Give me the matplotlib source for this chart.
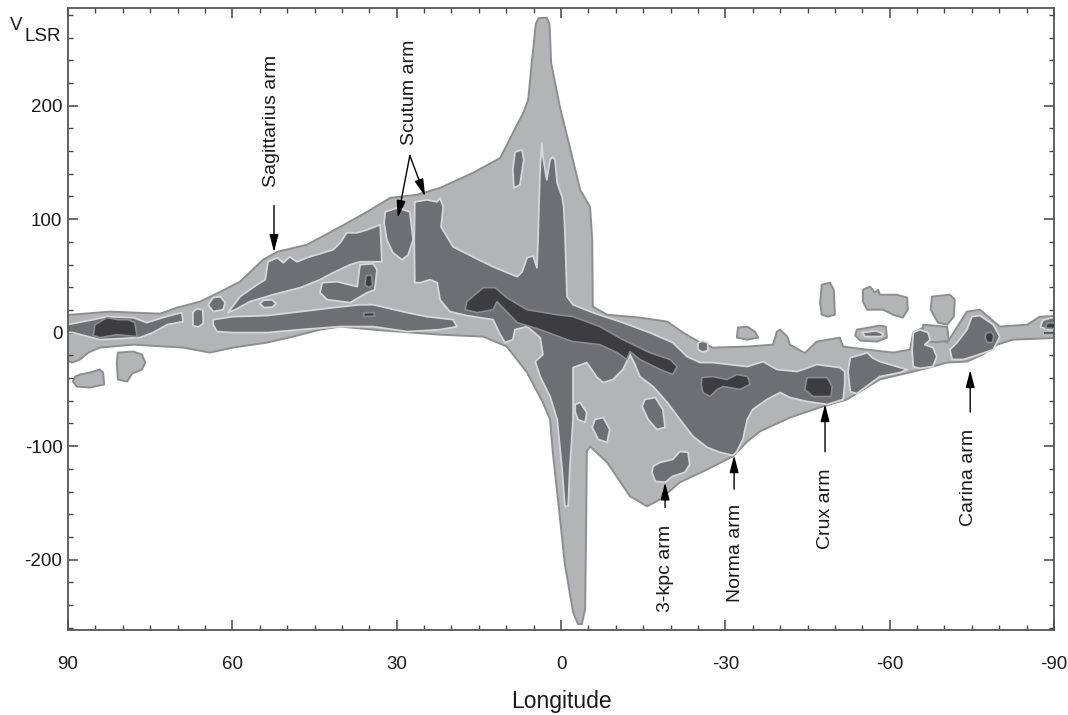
import matplotlib
matplotlib.use('Agg')
import matplotlib.pyplot as plt
from matplotlib.ticker import MultipleLocator

plt.rcParams['font.family'] = ['Liberation Sans', 'DejaVu Sans']
plt.rcParams['axes.unicode_minus'] = False

# outlines, (longitude deg, V_LSR km/s)
envelope = [(92, 16), (89.3, 15.8), (82.3, 18.5), (73.2, 16.7), (70.1, 22), (65.9, 27.3), (62.2, 36),
            (58.6, 44.9), (54.4, 64.2), (51.8, 71.2), (46.4, 77.4), (40.3, 93.2), (35.4, 106.4),
            (31.2, 118.7), (26.3, 121.4), (22.1, 127.5), (16.1, 140.7), (11.1, 153.9), (8.8, 175.9),
            (6.9, 193.5), (6.0, 204.9), (5.3, 240), (5.1, 249), (4.6, 272), (4.1, 277), (2.6, 277.5),
            (2.1, 272), (1.8, 237.5), (0.2, 198.8), (-1.6, 163.6), (-3.5, 125.8), (-5.3, 110.8),
            (-5.7, 81.8),
            (-5.8, 22.9), (-8.4, 15.8), (-14.4, 13.2), (-19.4, 9.7), (-22.3, 0), (-25.4, -8.8),
            (-27.7, -13.2), (-34, -12.3), (-38.7, -10.6), (-39.4, 0.9), (-40, 2.6), (-41.3, -3.5),
            (-41.8, -10.6), (-44.5, -18), (-46.7, -7.9), (-50.9, -4.4), (-51.5, -12.3), (-55.9, -15),
            (-60.6, -17.6), (-63.7, -15), (-64.3, 0), (-66.1, 4.4), (-67.9, -3.5), (-70.5, -8.8),
            (-74.1, 18.5), (-76.5, 20.2), (-80.1, 5.3), (-85.1, 7), (-87.4, 14), (-92, 15),
            (-92, -4.4), (-82.5, -6.2), (-79.6, -10.6), (-77, -19.3), (-74.1, -25.5), (-70.5, -26.4),
            (-67.9, -29.9), (-64.3, -34.3), (-58.2, -41.3), (-52.2, -58.9), (-47.8, -65.1),
            (-41.8, -74.8), (-36.3, -87.1), (-34, -95.9), (-31.4, -109), (-26.7, -120.5),
            (-21.7, -131.9), (-18.1, -146.9), (-15.7, -153), (-12.6, -144.2), (-8.4, -114.3),
            (-5.3, -100.3), (-4.7, -104.7), (-4.6, -164.5), (-4.4, -243.6), (-3.8, -256.8),
            (-3.1, -256.8), (-2.2, -246.3), (-0.7, -204), (0.5, -149.5), (1.5, -105.5), (2, -76.5),
            (3.3, -61.6), (6.2, -35.2), (9.9, -12.3), (14.2, -3.5), (22.1, -1.8), (34.3, 2.6),
            (40.3, 5.3), (44, 2.6), (48.9, -3.5), (53.7, -8.8), (59.9, -13.2), (64.1, -17.6),
            (69, -13.2), (78.1, -10.6), (84.2, -13.2), (86.3, -17.6), (87.8, -23.7), (89.3, -26.4),
            (92, -21)]

light_blobs = [
    [(88.7, -38.7), (87.8, -36.9), (86, -35.2), (84.2, -32.5), (83.6, -35.2), (83.4, -45.7),
     (86, -48.4), (88.4, -47.5), (89.1, -43.1)],
    [(80.9, -17.6), (78.1, -16.7), (76.5, -19.3), (75.9, -26.4), (76.5, -32.5), (78.3, -36.1),
     (79.2, -43.1), (80.9, -41.3), (81.1, -26.4)],
    [(-47.6, 42.2), (-49.1, 44), (-49.8, 37.8), (-50, 15.8), (-48.7, 14.1), (-47.6, 15.8), (-47.3, 26.4)],
    [(-55.1, 37.8), (-56.4, 40.5), (-57.3, 35.2), (-57.9, 37.8), (-58.2, 33.4), (-61.3, 33.4),
     (-63.2, 30.8), (-63.3, 20.2), (-62.4, 13.2), (-60.6, 15.8), (-58.8, 20.2), (-55.9, 20.2),
     (-55.1, 27.3)],
    [(-67.7, 31.7), (-71, 33.4), (-71.9, 29), (-71.7, 14.1), (-70.5, 7), (-68.8, 8.8), (-67.5, 20.2)],
    [(-32.3, 4.4), (-34, 5.3), (-35.4, 0.9), (-36, -4.4), (-34, -6.2), (-32.1, -4.4)],
    [(-54, 2.6), (-58.2, 6.2), (-59.3, 5.3), (-59.5, -4.4), (-57.7, -7.9), (-54.6, -7), (-53.7, -2.6)],
    [(-66.1, 7), (-68.5, 6), (-70.5, 5), (-70.8, -7), (-68.5, -8.5), (-66.1, -7.5)],
]

medium_regions = [
    # left wing band near 0 km/s
    [(92, 5.3), (85.4, 11.4), (82.9, 14.1), (78.1, 13.2), (75.6, 8.8), (72.7, 13.2), (70.8, 15.8),
     (69.2, 17.6), (69, 9.7), (71.9, 7), (74.5, 0), (76.9, -4.4), (84.2, -6.2), (89.1, 0), (92, 0.9)],
    [(67.2, 18), (66.5, 21), (65.4, 20), (65.3, 8), (66.2, 5), (67.2, 6)],
    [(64.4, 24.6), (63.5, 30.8), (62.2, 31.7), (61.3, 26.4), (61.7, 20.2), (63.5, 18.5)],
    # Sagittarius band
    [(60.8, 17.6), (58.6, 31.7), (55.5, 42.2), (54, 46.6), (53.5, 62.4), (51.8, 66), (50.7, 61.6),
     (49.5, 66.8), (48.2, 62.4), (46.4, 66), (41.6, 73), (40.3, 79.2), (39.1, 88), (37.2, 88),
     (35.4, 90.6), (33, 95), (32.7, 62.4), (36.7, 62.4), (38.5, 59.8), (41.6, 52.8), (44, 46.6),
     (47.6, 39.6), (52.6, 33.4), (56.8, 27.3), (59.5, 20.2)],
    # lower arm band
    [(63.5, 7), (63.5, 11.4), (59.9, 14.1), (53.7, 15), (47.6, 18.5), (41.6, 22), (36.7, 24.6),
     (34.3, 24.6), (28.1, 17.6), (24.5, 14.1), (19.7, 11.4), (19, 5.3), (22.1, 2.6), (28.1, 0.9),
     (34.3, 5.3), (40.3, 5.3), (47.6, 2.6), (53.7, 0), (59.9, 0), (62.8, 0.9)],
    [(43.6, 44), (40.9, 44.9), (37.2, 40.5), (36.7, 59.8), (34.3, 60.7), (33.6, 55.4), (34, 37.8),
     (35.4, 35.2), (38.5, 26.4), (42.7, 29), (44, 35.2)],
    [(55, 25.5), (54.3, 28.5), (52.8, 29), (52, 25.5), (52.7, 22.5), (54.2, 22)],
    # Scutum piece
    [(32.1, 106.4), (29.9, 109.9), (27.6, 106.4), (27, 81.8), (27.9, 68.6), (29, 64.2), (30.7, 70.4),
     (31.8, 81.8), (32.3, 96.7)],
    [(8.4, 159.2), (7.1, 161), (6.8, 152.2), (7.5, 130.2), (8.6, 127.5), (8.8, 143.4)],
    # main central region
    [(26.7, 44), (26.8, 81.8), (26.7, 115.2), (24.5, 117), (22.6, 115.2), (22.1, 118.7), (21.5, 110.8),
     (21.9, 93.2), (20.8, 84.4), (19.7, 75.6), (16.1, 66.8), (12.4, 58), (8, 49.3), (7.1, 53.6),
     (6.2, 66), (5.1, 67.7), (4.4, 57.2), (4.2, 81.8), (4, 117), (3.8, 146), (3.5, 167.1),
     (3.3, 154.8), (2.6, 134.6), (2, 152.2), (1.5, 154.8), (1.1, 152.2), (0.7, 131.9), (-0.2, 119.6),
     (-0.5, 110.8), (-0.7, 90.6), (-1.1, 31.7), (-2.2, 24.6), (-5.8, 17.6), (-11.3, 8.8), (-16.2, 0),
     (-20.4, -8.8), (-23, -21.1), (-25.4, -26.4), (-27.7, -26.4), (-34, -29.9), (-36.9, -25.5),
     (-39.4, -32.5), (-43.1, -34.3), (-46.7, -28.1), (-50.9, -30.8), (-51.8, -34.3), (-51.8, -45.7),
     (-51.5, -58.9), (-48.6, -63.3), (-44.9, -60.7), (-41.8, -57.2), (-40, -52.8), (-37.6, -58.9),
     (-35, -67.7), (-34, -76.5), (-33.2, -94.1), (-32.1, -104.7), (-31.4, -108.2), (-29, -105.5),
     (-26.7, -101.1), (-24.1, -91.5), (-21.7, -76.5), (-19.4, -61.6), (-16.8, -47.5), (-14.4, -38.7),
     (-13.5, -28.1), (-12.6, -19.3), (-12, -25.5), (-11.3, -32.5), (-9.5, -41.3), (-7.7, -44),
     (-6.6, -39.6), (-4.7, -26.4), (-2.2, -30.8), (-2.2, -76.5), (-1.6, -120.5), (-1.3, -153),
     (-0.7, -153), (-0.2, -120.5), (0.7, -76.5), (2, -56.3), (3.8, -38.7), (4.7, -25.5), (3.3, -19.3),
     (3.8, -4.4), (6.2, 5.3), (8.4, 2.6), (8.8, -6.2), (10.2, -8.8), (11.1, -1.8), (12.4, 11.4),
     (14.8, 13.2), (17.2, 15), (20.3, 18.5), (22.1, 29), (22.6, 44), (23.9, 46.6), (25.7, 44)],
    # pockets below the centre
    [(-2.6, -63.3), (-3.5, -61.6), (-4.7, -70.4), (-4.4, -79.2), (-3.1, -76.5), (-2.6, -70.4)],
    [(-6.2, -76.5), (-7.7, -74.8), (-8.9, -85.3), (-8.4, -96.7), (-6.8, -94.1), (-5.7, -83.6)],
    [(-15.3, -58.9), (-17.2, -57.2), (-18.6, -67.7), (-19, -83.6), (-17.5, -85.3), (-15.9, -76.5),
     (-14.8, -65.1)],
    [(-16.8, -117.9), (-18.1, -114.3), (-20.4, -111.7), (-21.7, -104.7), (-23.2, -105.5),
     (-23.5, -116.1), (-22.6, -123.1), (-20.4, -126.6), (-19, -131.9), (-17.2, -131), (-16.6, -123.1)],
    # right side
    [(-25, -9), (-25.8, -7.5), (-26.8, -9), (-26.8, -16), (-25.8, -17), (-25, -15)],
    [(-52.4, -34.3), (-52.8, -22), (-54.9, -19.3), (-55.9, -17.6), (-56.8, -22), (-58.2, -25.5),
     (-61.3, -29.9), (-63.2, -32.5), (-61.9, -35.2), (-58.2, -38.7), (-54, -53.7), (-52.8, -52)],
    [(-55, 0), (-57.5, 1.5), (-58.8, -1), (-58.5, -3.5), (-55.5, -3.5)],
    [(-64.3, 0), (-65.5, 2.6), (-67, 0), (-67.4, -6.2), (-66.4, -10.6), (-67.9, -13.2), (-68.6, -21.1),
     (-67.9, -29.9), (-65.5, -31.5), (-64.3, -30), (-64.1, -15)],
    [(-71, -15), (-72.3, -8.8), (-74.1, 2.6), (-75, 14.1), (-76.5, 15), (-78.9, 7), (-80.1, -3.5),
     (-78.9, -15), (-75.2, -21.1), (-73.4, -23.7), (-71.4, -23.7)],
    [(-87.5, 5), (-88, 11), (-89.5, 13), (-92, 13), (-92, 3), (-89, 2.5)],
]

dark_regions = [
    [(85.1, 7), (82.9, 13.2), (80.9, 11.4), (79, 11.4), (77.8, 8.8), (77.4, -3.5), (81.1, -1.8),
     (84.2, -4.4), (85.4, -2.6)],
    [(35.6, 50), (34.6, 51), (34.4, 42), (35, 39.5), (35.8, 42)],
    [(36, 17.5), (34.2, 17.8), (34, 14.5), (36, 14.2)],
    [(17.2, 27.3), (14.2, 39.6), (12, 39.6), (9.9, 30.8), (6.2, 20.2), (0.7, 15.8), (-2.2, 14.1),
     (-7.1, 5.3), (-11.3, -6.2), (-16.2, -17.6), (-19.9, -23.7), (-21.2, -29.9), (-20.4, -36.9),
     (-18.1, -32.5), (-14.4, -23.7), (-12.6, -16.7), (-12, -23.7), (-10.2, -17.6), (-7.1, -10.6),
     (-2.2, -7.9), (-1.1, -6.2), (3.8, 2.6), (8, 8.8), (11.7, 27.3), (12.4, 20.2), (15.3, 17.6),
     (17.5, 20.2)],
    [(-25.7, -39.6), (-27.7, -38.7), (-30.3, -41.3), (-32.1, -36.9), (-34.1, -38.7), (-34.5, -45.7),
     (-32.7, -50.1), (-29.6, -47.5), (-28.5, -50.1), (-27.2, -56.3), (-25.9, -52.8), (-25.6, -45.7)],
    [(-44.9, -39.6), (-48.6, -39.6), (-49.5, -47.5), (-49.3, -56.3), (-46, -56.3), (-44.5, -50.1)],
    [(-77.6, -0.5), (-78.6, 0.5), (-79, -3), (-78.8, -8.5), (-77.8, -8.8), (-77.4, -4)],
    [(-88.5, 4), (-88.7, 8.5), (-92, 9), (-92, 3)],
]

# arm labels: name, text lon, text v, text anchor, arrow tails and tips
arm_names = ['Sagittarius arm', 'Scutum arm', '3-kpc arm', 'Norma arm', 'Crux arm', 'Carina arm']
arm_text_lon = [52.8, 27.6, -19.0, -31.8, -48.2, -74.3]
arm_text_v = [128, 165, -169, -151, -120, -85]
arm_text_va = ['bottom', 'bottom', 'top', 'top', 'top', 'top']
arm_arrows = [[((52.4, 112), (52.4, 71))],
              [((27.6, 156), (29.8, 101)), ((27.6, 156), (24.8, 120))],
              [((-19.0, -154), (-19.0, -132))],
              [((-31.6, -138), (-31.6, -108))],
              [((-48.2, -105), (-48.2, -63))],
              [((-74.7, -70), (-74.7, -33))]]

LIGHT = '#b3b4b6'
MEDIUM = '#6e6f72'
DARK = '#3d3d3f'

fig = plt.figure(figsize=(10.68, 7.15), dpi=100)
ax = fig.add_axes([0.0637, 0.1189, 0.9232, 0.8699])


def draw(poly, face, edge, lw, z):
    lon = [p[0] for p in poly]
    v = [p[1] for p in poly]
    ax.fill(lon, v, facecolor=face, edgecolor=edge, linewidth=lw, zorder=z, joinstyle='round')


draw(envelope, LIGHT, '#8d8e91', 1.4, 1)
for poly in light_blobs:
    draw(poly, LIGHT, '#8d8e91', 1.4, 1)
for poly in medium_regions:
    draw(poly, MEDIUM, '#d6d7d9', 1.3, 2)
for poly in dark_regions:
    draw(poly, DARK, '#8b8c8f', 1.2, 3)

for name, tl, tv, va, arrows in zip(arm_names, arm_text_lon, arm_text_v, arm_text_va, arm_arrows):
    ax.text(tl, tv, name, rotation=90, ha='center', va=va, fontsize=14, color='#1a1a1a', zorder=5)
    for tail, tip in arrows:
        ax.annotate('', xy=tip, xytext=tail, zorder=5,
                    arrowprops=dict(arrowstyle='-|>,head_length=0.7,head_width=0.18',
                                    color='black', lw=1.0, mutation_scale=15, shrinkA=0, shrinkB=0))

ax.set_xlim(90, -90)
ax.set_ylim(-262, 286)
ax.set_xticks([90, 60, 30, 0, -30, -60, -90])
ax.set_xticklabels(['90', '60', '30', '0', '-30', '-60', '-90'])
ax.set_yticks([-200, -100, 0, 100, 200])
ax.set_yticklabels(['-200', '-100', '0', '100', '200'])
ax.xaxis.set_minor_locator(MultipleLocator(5))
ax.yaxis.set_minor_locator(MultipleLocator(20))
ax.tick_params(which='both', direction='in', top=True, right=True, color='#444444', labelcolor='#1a1a1a')
ax.tick_params(which='major', length=7, width=1.1, labelsize=13.5)
ax.tick_params(axis='x', which='major', pad=19)
ax.tick_params(axis='y', which='major', pad=4)
ax.tick_params(which='minor', length=3.5, width=1.0)
for s in ax.spines.values():
    s.set_color('#555555')
    s.set_linewidth(1.3)

ax.set_xlabel('Longitude', fontsize=16.5, color='#1a1a1a', labelpad=12)
fig.text(10 / 1068, 1 - 17 / 715, 'V', fontsize=13.5, color='#1a1a1a', va='top', ha='left')
fig.text(25 / 1068, 1 - 28 / 715, 'LSR', fontsize=13.5, color='#1a1a1a', va='top', ha='left')

fig.savefig('out.png', dpi=100)
